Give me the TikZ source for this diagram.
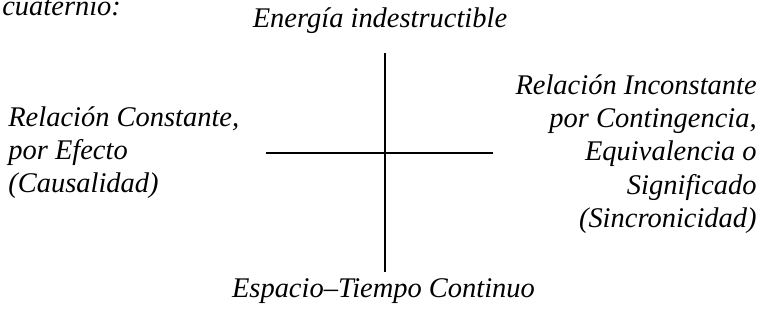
\documentclass[tikz,border=0pt]{standalone}
\usepackage{fontspec}
\setmainfont{Liberation Serif}
\usetikzlibrary{positioning}

\begin{document}
\begin{tikzpicture}[
    txt/.style={font=\fontsize{16.2}{19}\selectfont\itshape, inner sep=0pt},
    axis/.style={line width=1.1pt, black}
]
\useasboundingbox (0,0) rectangle (15.26,-6.4);

% Heading
\node[txt, anchor=base west] (head) at (0.04,-0.30) {cuaternio:};

% Cross
\coordinate (centre) at (7.70,-3.06);
\coordinate (top) at (7.70,-1.06);
\coordinate (bottom) at (7.70,-5.44);
\coordinate (left) at (5.32,-3.06);
\coordinate (right) at (9.86,-3.06);
\draw[axis] (top) -- (bottom);
\draw[axis, line width=0.9pt] (left) -- (right);

% Labels
\node[txt, anchor=base] (energy) at (7.60,-0.54) {Energía indestructible};
\node[txt, anchor=base] (space) at (7.67,-5.94) {Espacio--Tiempo Continuo};
\node[txt, align=left, anchor=north west] (causal) at (0.16,-2.12)
    {Relación Constante,\\por Efecto\\(Causalidad)};
\node[txt, align=right, anchor=north east] (synchro) at (15.14,-1.48)
    {Relación Inconstante\\por Contingencia,\\Equivalencia o\\Significado\\(Sincronicidad)};
\end{tikzpicture}
\end{document}
